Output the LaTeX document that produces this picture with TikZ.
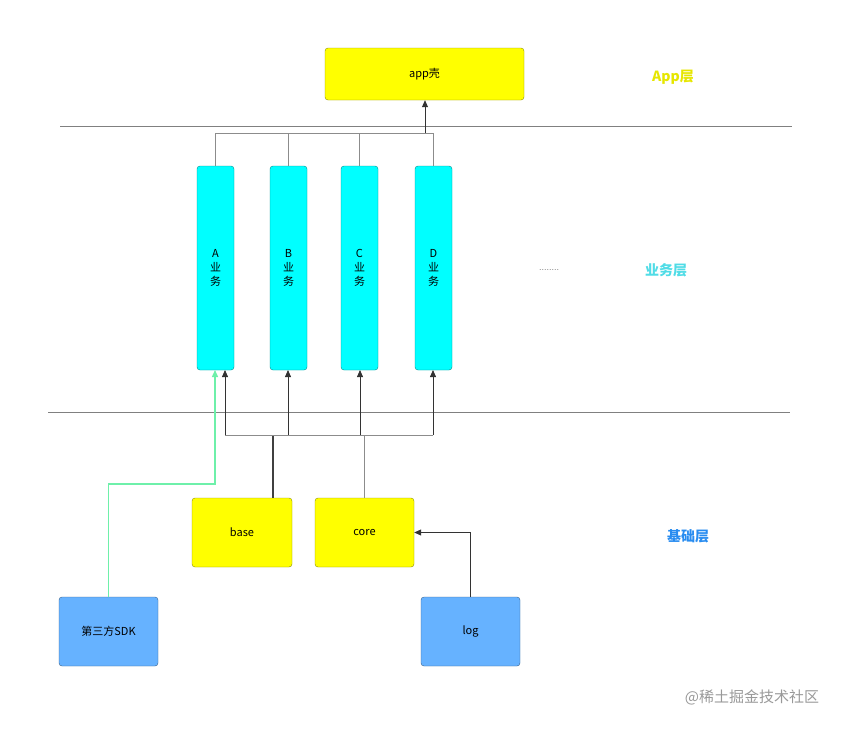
\documentclass[tikz,border=0pt]{standalone}
\usepackage{fontspec}
\setmainfont{Liberation Sans}
\newfontfamily\cjk{Noto Sans CJK SC}
\usetikzlibrary{arrows.meta}
\definecolor{ye}{RGB}{255,255,0}
\definecolor{cy}{RGB}{0,255,255}
\definecolor{bl}{RGB}{102,178,255}
\begin{document}
\begin{tikzpicture}[x=1pt,y=-1pt,
 box/.style={draw=#1!55!black,rounded corners=3pt,inner sep=0pt,font=\cjk\fontsize{11}{14}\selectfont},
 yb/.style={box=ye,fill=ye},
 cb/.style={box=cy,fill=cy,align=center},
 bb/.style={box=bl,fill=bl},
 con/.style={draw=gray!90,line width=0.8pt},
 arr/.style={con,-{Triangle[length=7pt,width=6pt]},draw=black!80},
 lab/.style={font=\cjk\bfseries\fontsize{14}{16}\selectfont}]
\useasboundingbox (0,0) rectangle (855,729);
\node[yb,minimum width=199pt,minimum height=52pt] (app) at (424.5,74) {app壳};
\draw[gray,line width=0.9pt] (60,126) -- (792,126);
\draw[gray,line width=0.9pt] (48,412) -- (790,412);
\foreach \n/\x in {A/215.5,B/288.5,C/359.5,D/433.5}
 \node[cb,minimum width=37pt,minimum height=204pt] (\n) at (\x,268) {\n\\业\\务};
\node[yb,minimum width=100pt,minimum height=69pt] (base) at (242,532.5) {base};
\node[yb,minimum width=99pt,minimum height=69pt] (core) at (364.5,532.5) {core};
\node[bb,minimum width=99pt,minimum height=69pt] (sdk) at (108.5,631.5) {第三方SDK};
\node[bb,minimum width=99pt,minimum height=69pt] (log) at (470.5,631.5) {log};
\coordinate (tj) at (425,133);
\draw[con] (A.north) |- (tj) (B.north) -- (B.north|-tj) (C.north) -- (C.north|-tj) (D.north) -- (D.north|-tj) -- (tj);
\draw[arr] (tj) -- (app.south-|tj);
\coordinate (bj) at (273,435);
\draw[con,draw=black!75,line width=1.6pt] (base.north-|bj) -- (bj);
\draw[con] (core.north) -- (core.north|-bj);
\draw[con] (225,435) -- (433,435);
\draw[arr] (225,435) -- (225,370);
\draw[arr] (288,435) -- (288,370);
\draw[arr] (360,435) -- (360,370);
\draw[arr] (433,435) -- (433,370);
\draw[arr,draw={rgb,255:red,110;green,240;blue,170},line width=1.4pt] (sdk.north) |- (215,484) -- (215,370);
\draw[arr] (log.north) |- (core.east);
\node[lab,text={rgb,255:red,230;green,230;blue,0}] (l1) at (673,77) {App层};
\node[lab,text={rgb,255:red,80;green,220;blue,230}] (l2) at (666,270) {业务层};
\node[lab,text={rgb,255:red,40;green,140;blue,240}] (l3) at (688,536) {基础层};
\node[font=\fontsize{9}{10}\selectfont,text=gray] (dots) at (549,270) {........};
\node[font=\cjk\fontsize{15}{17}\selectfont,text=gray!80] (wm) at (752,697) {@稀土掘金技术社区};
\end{tikzpicture}
\end{document}
